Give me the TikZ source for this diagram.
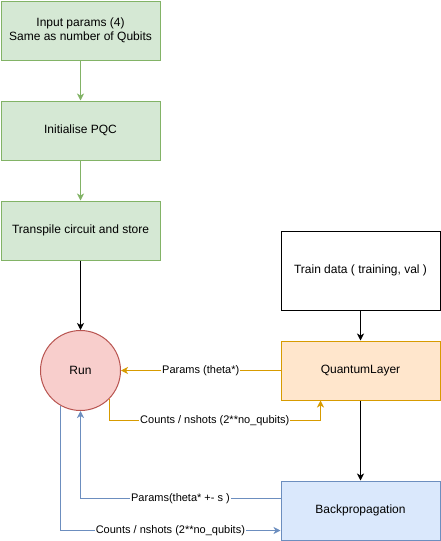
\documentclass[tikz,border=0pt]{standalone}
\usepackage{fontspec}
\setmainfont{Liberation Sans}
\usetikzlibrary{
    arrows.meta,
    positioning
}

\definecolor{greenfill}{HTML}{D5E8D4}
\definecolor{greenline}{HTML}{82B366}
\definecolor{redfill}{HTML}{F8CECC}
\definecolor{redline}{HTML}{B85450}
\definecolor{orangefill}{HTML}{FFE6CC}
\definecolor{orangeline}{HTML}{D79B00}
\definecolor{bluefill}{HTML}{DAE8FC}
\definecolor{blueline}{HTML}{6C8EBF}

\begin{document}
\begin{tikzpicture}[x=1pt,y=-1pt,line width=1pt,
    box/.style={draw,minimum width=159pt,minimum height=59pt,align=center,
        inner sep=0pt,font=\fontsize{12}{14}\selectfont},
    stepgreen/.style={box,fill=greenfill,draw=greenline},
    arr/.style={-{Stealth[length=7pt,width=7pt,inset=2pt]}},
    lbl/.style={fill=white,text=black,inner sep=1pt,font=\fontsize{11}{13}\selectfont}
]
    \useasboundingbox (0,0) rectangle (441,541);

    \node[stepgreen] (input) at (80.5,30.5) {Input params (4)\\Same as number of Qubits};
    \node[stepgreen] (init) at (80.5,130.5) {Initialise PQC};
    \node[stepgreen] (transpile) at (80.5,230.5) {Transpile circuit and store};

    \node[circle,draw=redline,fill=redfill,minimum size=80pt,inner sep=0pt,
        font=\fontsize{12}{14}\selectfont] (run) at (80.5,370.5) {Run};

    \node[box,minimum height=79pt] (train) at (360.5,270.5) {Train data ( training, val )};
    \node[box,fill=orangefill,draw=orangeline] (qlayer) at (360.5,370.5) {QuantumLayer};
    \node[box,fill=bluefill,draw=blueline] (backprop) at (360.5,510.5) {Backpropagation};

    \draw[arr,greenline] (input) -- (init);
    \draw[arr,greenline] (init) -- (transpile);
    \draw[arr] (transpile) -- (run);
    \draw[arr] (train) -- (qlayer);
    \draw[arr] (qlayer) -- (backprop);

    \draw[arr,orangeline] (qlayer.west) -- node[lbl]{Params (theta*)} (run.east);
    \draw[arr,orangeline] (run.south east) -- ++(0,21.5)
        -| node[lbl,pos=0.25]{Counts / nshots (2**no\_qubits)} ([xshift=-40pt]qlayer.south);

    \draw[arr,blueline] ([yshift=12pt]backprop.west)
        -| node[lbl,pos=0.25]{Params(theta* +- s )} (run.south);
    \draw[arr,blueline] (run.240)
        |- node[lbl,pos=0.75]{Counts / nshots (2**no\_qubits)} ([yshift=-20pt]backprop.west);
\end{tikzpicture}
\end{document}
